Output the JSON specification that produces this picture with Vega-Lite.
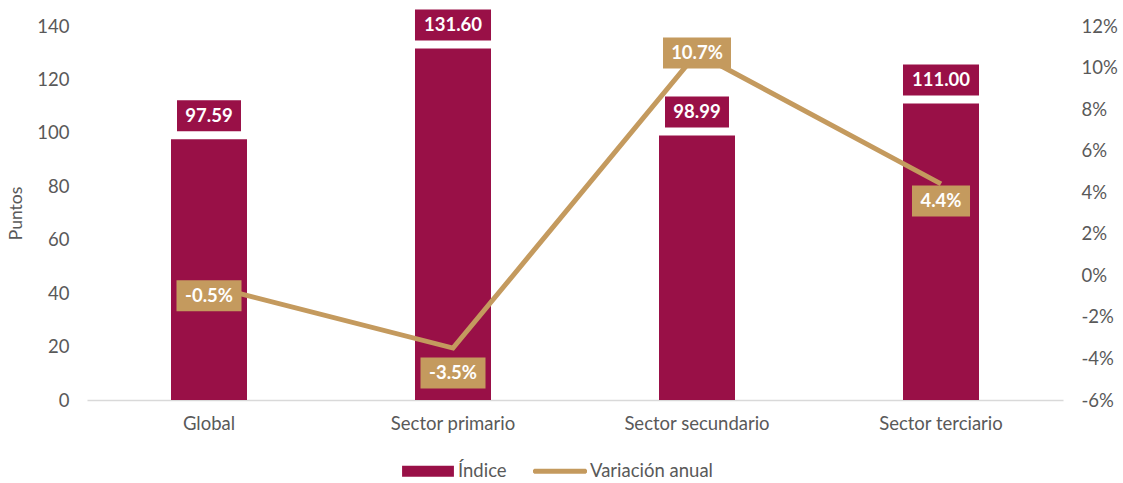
{
  "$schema": "https://vega.github.io/schema/vega-lite/v6.json",
  "width": 976,
  "height": 374,
  "autosize": {"type": "none"},
  "padding": {"left": 87, "top": 26, "right": 60, "bottom": 83},
  "background": "white",
  "config": {
    "font": "Lato",
    "locale": {"number": {"decimal": ".", "thousands": ",", "grouping": [3], "currency": ["$", ""], "minus": "-"}},
    "view": {"stroke": null},
    "axis": {"grid": false, "ticks": false, "labelColor": "#595959", "labelFontSize": 18.5, "titleColor": "#595959", "titleFontWeight": "normal"}
  },
  "data": {
    "values": [
      {"Sector": "Global", "Indice": 97.59, "Variacion": -0.005},
      {"Sector": "Sector primario", "Indice": 131.60, "Variacion": -0.035},
      {"Sector": "Sector secundario", "Indice": 98.99, "Variacion": 0.107},
      {"Sector": "Sector terciario", "Indice": 111.00, "Variacion": 0.044}
    ]
  },
  "encoding": {
    "x": {
      "field": "Sector", "type": "nominal", "sort": null,
      "scale": {"paddingInner": 0, "paddingOuter": 0},
      "axis": {"title": null, "labelAngle": 0, "labelPadding": 14, "domain": true, "domainColor": "#D9D9D9", "domainWidth": 1.5}
    }
  },
  "layer": [
    {
      "encoding": {
        "y": {
          "field": "Indice", "type": "quantitative",
          "scale": {"domain": [0, 140], "nice": false, "zero": true},
          "axis": {"orient": "left", "title": "Puntos", "titleFontSize": 17.5, "titlePadding": 11, "values": [0, 20, 40, 60, 80, 100, 120, 140], "labelPadding": 18, "domain": false}
        }
      },
      "layer": [
        {
          "mark": {"type": "bar", "width": 76},
          "encoding": {
            "color": {
              "datum": "Índice", "type": "nominal",
              "scale": {"domain": ["Índice", "Variación anual"], "range": ["#991047", "#C49A5E"]},
              "legend": {
                "title": null, "orient": "none", "legendX": 314, "legendY": 418, "direction": "horizontal",
                "symbolSize": 2916, "labelFontSize": 18.5, "labelColor": "#595959", "labelOffset": 3, "columnPadding": 26,
                "encode": {
                  "symbols": {
                    "update": {
                      "shape": {"signal": "datum.value === 'Índice' ? 'M-0.96,-0.2L0.96,-0.2L0.96,0.2L-0.96,0.2Z' : 'M-0.95,-0.09L0.95,-0.09L1,-0.05L1,0.05L0.95,0.09L-0.95,0.09L-1,0.05L-1,-0.05Z'"},
                      "fill": {"signal": "datum.value === 'Índice' ? '#991047' : '#C49A5E'"},
                      "fillOpacity": {"value": 1},
                      "strokeWidth": {"value": 0}
                    }
                  }
                }
              }
            }
          }
        },
        {
          "mark": {"type": "point", "filled": true, "opacity": 1, "size": 4900, "yOffset": -23.5, "color": "#991047", "strokeWidth": 0},
          "encoding": {
            "shape": {
              "condition": {"test": "datum.Indice >= 100", "value": "M-1.086,-0.443L1.086,-0.443L1.086,0.443L-1.086,0.443Z"},
              "value": "M-0.914,-0.443L0.914,-0.443L0.914,0.443L-0.914,0.443Z"
            }
          }
        },
        {
          "mark": {"type": "text", "yOffset": -23.5, "baseline": "middle", "align": "center", "color": "white", "fontWeight": "bold", "fontSize": 18.5},
          "encoding": {"text": {"field": "Indice", "type": "quantitative", "format": ".2f"}}
        }
      ]
    },
    {
      "encoding": {
        "y": {
          "field": "Variacion", "type": "quantitative",
          "scale": {"domain": [-0.06, 0.12], "nice": false, "zero": false},
          "axis": {"orient": "right", "title": null, "format": ".0%", "values": [-0.06, -0.04, -0.02, 0, 0.02, 0.04, 0.06, 0.08, 0.10, 0.12], "labelPadding": 18, "domain": false}
        }
      },
      "layer": [
        {
          "mark": {"type": "line", "strokeWidth": 5, "strokeJoin": "miter"},
          "encoding": {"color": {"datum": "Variación anual", "type": "nominal"}}
        },
        {
          "transform": [{"filter": "datum.Sector === 'Global'"}],
          "layer": [
            {"mark": {"type": "point", "filled": true, "opacity": 1, "size": 4900, "yOffset": 10, "color": "#C49A5E", "strokeWidth": 0, "shape": "M-0.929,-0.443L0.929,-0.443L0.929,0.443L-0.929,0.443Z"}},
            {"mark": {"type": "text", "yOffset": 10, "baseline": "middle", "align": "center", "color": "white", "fontWeight": "bold", "fontSize": 18.5}, "encoding": {"text": {"field": "Variacion", "type": "quantitative", "format": ".1%"}}}
          ]
        },
        {
          "transform": [{"filter": "datum.Sector === 'Sector primario'"}],
          "layer": [
            {"mark": {"type": "point", "filled": true, "opacity": 1, "size": 4900, "yOffset": 25, "color": "#C49A5E", "strokeWidth": 0, "shape": "M-0.929,-0.443L0.929,-0.443L0.929,0.443L-0.929,0.443Z"}},
            {"mark": {"type": "text", "yOffset": 25, "baseline": "middle", "align": "center", "color": "white", "fontWeight": "bold", "fontSize": 18.5}, "encoding": {"text": {"field": "Variacion", "type": "quantitative", "format": ".1%"}}}
          ]
        },
        {
          "transform": [{"filter": "datum.Sector === 'Sector secundario'"}],
          "layer": [
            {"mark": {"type": "point", "filled": true, "opacity": 1, "size": 4900, "yOffset": 0, "color": "#C49A5E", "strokeWidth": 0, "shape": "M-0.971,-0.443L0.971,-0.443L0.971,0.443L-0.971,0.443Z"}},
            {"mark": {"type": "text", "yOffset": 0, "baseline": "middle", "align": "center", "color": "white", "fontWeight": "bold", "fontSize": 18.5}, "encoding": {"text": {"field": "Variacion", "type": "quantitative", "format": ".1%"}}}
          ]
        },
        {
          "transform": [{"filter": "datum.Sector === 'Sector terciario'"}],
          "layer": [
            {"mark": {"type": "point", "filled": true, "opacity": 1, "size": 4900, "yOffset": 17, "color": "#C49A5E", "strokeWidth": 0, "shape": "M-0.829,-0.443L0.829,-0.443L0.829,0.443L-0.829,0.443Z"}},
            {"mark": {"type": "text", "yOffset": 17, "baseline": "middle", "align": "center", "color": "white", "fontWeight": "bold", "fontSize": 18.5}, "encoding": {"text": {"field": "Variacion", "type": "quantitative", "format": ".1%"}}}
          ]
        }
      ]
    }
  ],
  "resolve": {"scale": {"y": "independent"}}
}
